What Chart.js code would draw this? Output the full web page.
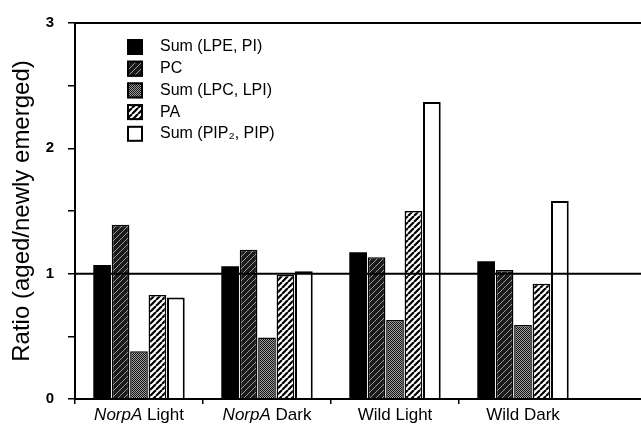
<!DOCTYPE html>
<html>
<head>
<meta charset="utf-8">
<script src="https://cdn.jsdelivr.net/npm/chart.js@4"></script>
<style>
  body { margin: 0; background: #fff; }
  #wrap { width: 641px; height: 428px; }
</style>
</head>
<body>
<div id="wrap"><canvas id="myChart"></canvas></div>
<script>
const categories = ['NorpA Light', 'NorpA Dark', 'Wild Light', 'Wild Dark'];
const seriesNames = ['Sum (LPE, PI)', 'PC', 'Sum (LPC, LPI)', 'PA', 'Sum (PIP\u2082, PIP)'];
const sumLpePi = [1.07, 1.06, 1.17, 1.10];
const pc = [1.39, 1.19, 1.13, 1.03];
const sumLpcLpi = [0.38, 0.49, 0.63, 0.59];
const pa = [0.83, 0.99, 1.50, 0.92];
const sumPip2Pip = [0.81, 1.02, 2.37, 1.58];
const yTicks = [0, 1, 2, 3];
const refLines = [0, 1, 3];

const FONT = "'Liberation Sans', Arial, Helvetica, sans-serif";
const ctx = document.getElementById('myChart').getContext('2d');

// small tiles for the printed fill patterns
function makePattern(size, draw) {
  const c = document.createElement('canvas');
  c.width = size; c.height = size;
  const g = c.getContext('2d');
  draw(g, size);
  return ctx.createPattern(c, 'repeat');
}
function slashes(g, s, color, width) {
  g.strokeStyle = color;
  g.lineWidth = width;
  g.beginPath();
  for (let k = -1; k <= 1; k++) {
    g.moveTo(k * s, s);
    g.lineTo(k * s + s, 0);
  }
  g.stroke();
}

const darkHatch = makePattern(6, (g, s) => {
  g.fillStyle = '#1a1a1a'; g.fillRect(0, 0, s, s);
  slashes(g, s, '#9a9a9a', 1);
});
const stipple = makePattern(2, (g) => {
  g.fillStyle = '#a0a0a0'; g.fillRect(0, 0, 2, 2);
  g.fillStyle = '#111'; g.fillRect(0, 0, 1, 1); g.fillRect(1, 1, 1, 1);
});
const stripes = makePattern(6, (g, s) => {
  g.fillStyle = '#fff'; g.fillRect(0, 0, s, s);
  slashes(g, s, '#000', 2.2);
});

const fills = ['#000', darkHatch, stipple, stripes, '#fff'];
const seriesData = [sumLpePi, pc, sumLpcLpi, pa, sumPip2Pip];

// reference lines at 0, 1 and 3 running out to the page edge
const linesPlugin = {
  id: 'refLines',
  afterDatasetsDraw(chart) {
    const c = chart.ctx, y = chart.scales.y, a = chart.chartArea;
    c.save();
    c.strokeStyle = '#000';
    c.lineWidth = 2;
    refLines.forEach(v => {
      const py = y.getPixelForValue(v);
      c.beginPath();
      c.moveTo(a.left, py);
      c.lineTo(chart.width, py);
      c.stroke();
    });
    c.restore();
  }
};

// legend box in the upper-left and mixed-style x labels
const textPlugin = {
  id: 'texts',
  afterDraw(chart) {
    const c = chart.ctx, a = chart.chartArea, x = chart.scales.x;
    c.save();
    c.fillStyle = '#000';
    c.textBaseline = 'middle';

    chart.data.datasets.forEach((ds, i) => {
      const cy = 47 + i * 21.7;
      c.fillStyle = ds.backgroundColor;
      c.fillRect(127, cy - 8, 16, 16);
      if (i > 0) {
        c.strokeStyle = '#000';
        c.lineWidth = 2;
        c.strokeRect(128, cy - 7, 14, 14);
      }
      c.fillStyle = '#000';
      c.font = '16px ' + FONT;
      c.textAlign = 'left';
      c.fillText(ds.label, 160, cy);
    });

    const ly = a.bottom + 16;
    chart.data.labels.forEach((lab, i) => {
      const cx = x.getPixelForValue(i);
      const sp = lab.indexOf(' ');
      const first = lab.slice(0, sp), rest = lab.slice(sp);
      const italic = first === 'NorpA';
      const f1 = (italic ? 'italic ' : '') + '17px ' + FONT;
      const f2 = '17px ' + FONT;
      c.font = f1; const w1 = c.measureText(first).width;
      c.font = f2; const w2 = c.measureText(rest).width;
      let sx = cx - (w1 + w2) / 2;
      c.textAlign = 'left';
      c.font = f1; c.fillText(first, sx, ly);
      c.font = f2; c.fillText(rest, sx + w1, ly);
    });
    c.restore();
  }
};

const myChart = new Chart(ctx, {
  type: 'bar',
  data: {
    labels: categories,
    datasets: seriesNames.map((name, i) => ({
      label: name,
      data: seriesData[i],
      backgroundColor: fills[i],
      borderColor: '#000',
      borderWidth: i === 0 ? 0 : (i === 4 ? 2 : 1.5),
      borderSkipped: 'bottom',
      barPercentage: 0.96,
      categoryPercentage: 0.72
    }))
  },
  options: {
    responsive: true,
    maintainAspectRatio: false,
    animation: false,
    layout: { padding: { top: 19, right: 54, left: 0, bottom: 0 } },
    plugins: {
      legend: { display: false },
      tooltip: { enabled: false }
    },
    scales: {
      x: {
        afterFit(s) { s.height = 29; },
        grid: {
          offset: true,
          drawOnChartArea: false,
          drawTicks: true,
          tickLength: 5,
          color: '#000',
          // the closing line past the last group has no tick context
          tickColor: (c) => c.tick ? '#000' : 'rgba(0,0,0,0)',
          lineWidth: 1.5
        },
        border: { display: true, color: '#000', width: 2 },
        ticks: { display: false }
      },
      y: {
        min: 0,
        max: 3,
        afterFit(s) { s.width = 75; },
        grid: {
          drawOnChartArea: false,
          drawTicks: true,
          tickLength: 7,
          color: '#000',
          lineWidth: 1.5
        },
        border: { display: true, color: '#000', width: 2 },
        ticks: {
          stepSize: 0.5,
          padding: 14,
          color: '#000',
          font: { family: FONT, size: 15, weight: 'bold' },
          callback: (v) => yTicks.includes(v) ? String(v) : ''
        },
        title: {
          display: true,
          text: 'Ratio (aged/newly emerged)',
          color: '#000',
          font: { family: FONT, size: 24 },
          padding: { top: 8, bottom: 0 }
        }
      }
    }
  },
  plugins: [linesPlugin, textPlugin]
});
</script>
</body>
</html>
